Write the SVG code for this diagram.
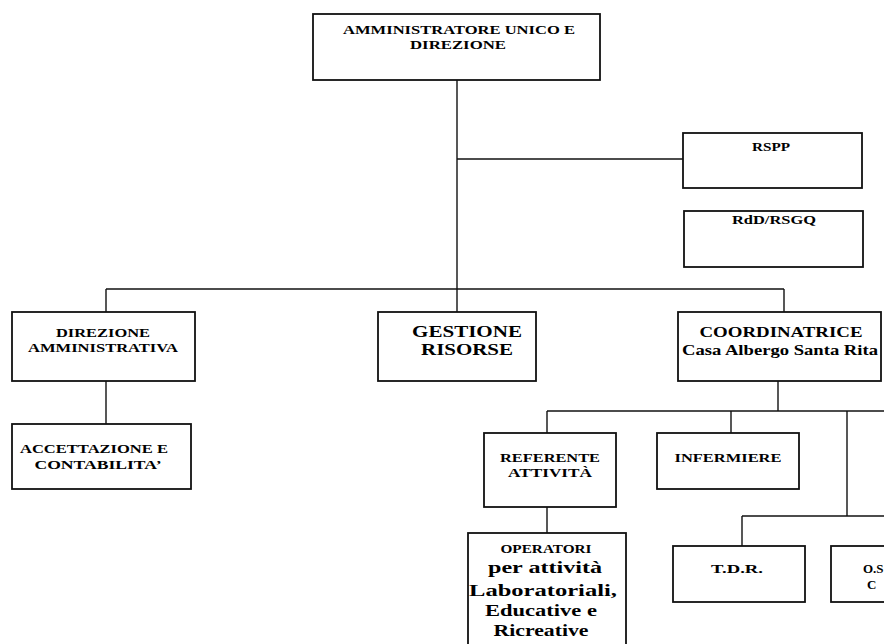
<svg xmlns="http://www.w3.org/2000/svg" width="884" height="644" viewBox="0 0 884 644">
<style>
.box{fill:#fff;stroke:#111;stroke-width:1.8}
.ln{fill:none;stroke:#111;stroke-width:1.4}
text{font-family:"Liberation Serif","Times New Roman",serif;font-weight:bold;fill:#000;text-anchor:middle}
.s12{font-size:12.5px}
.s13{font-size:13px}
.s14{font-size:14.5px}
.s17{font-size:16px}
.s18{font-size:17.5px}
</style>
<rect width="884" height="644" fill="#fff"/>
<g id="connectors">
<path class="ln" d="M457 80V312"/>
<path class="ln" d="M457 159H683"/>
<path class="ln" d="M106 289H784"/>
<path class="ln" d="M106 289V312"/>
<path class="ln" d="M784 289V312"/>
<path class="ln" d="M106 381V424"/>
<path class="ln" d="M778 381V411"/>
<path class="ln" d="M547 411H884"/>
<path class="ln" d="M547 411V433"/>
<path class="ln" d="M731 411V433"/>
<path class="ln" d="M847 411V516"/>
<path class="ln" d="M742 516H884"/>
<path class="ln" d="M742 516V546"/>
<path class="ln" d="M547 507V533"/>
</g>
<g id="amministratore">
<rect class="box" x="313" y="14" width="287" height="66"/>
<text class="s13" x="459" y="34" textLength="232" lengthAdjust="spacingAndGlyphs">AMMINISTRATORE UNICO E</text>
<text class="s13" x="458" y="49" textLength="96" lengthAdjust="spacingAndGlyphs">DIREZIONE</text>
</g>
<g id="rspp">
<rect class="box" x="683" y="133" width="179" height="55"/>
<text class="s12" x="771" y="151" textLength="38" lengthAdjust="spacingAndGlyphs">RSPP</text>
</g>
<g id="rdd">
<rect class="box" x="684" y="211" width="179" height="56"/>
<text class="s12" x="774" y="224" textLength="84" lengthAdjust="spacingAndGlyphs">RdD/RSGQ</text>
</g>
<g id="direzione-amministrativa">
<rect class="box" x="12" y="312" width="183" height="69"/>
<text class="s13" x="103" y="337" textLength="94" lengthAdjust="spacingAndGlyphs">DIREZIONE</text>
<text class="s13" x="103" y="352" textLength="150" lengthAdjust="spacingAndGlyphs">AMMINISTRATIVA</text>
</g>
<g id="gestione-risorse">
<rect class="box" x="378" y="312" width="158" height="69"/>
<text class="s17" x="467" y="337" textLength="110" lengthAdjust="spacingAndGlyphs">GESTIONE</text>
<text class="s17" x="467" y="355" textLength="92" lengthAdjust="spacingAndGlyphs">RISORSE</text>
</g>
<g id="coordinatrice">
<rect class="box" x="678" y="312" width="203" height="69"/>
<text class="s14" x="781" y="337" textLength="163" lengthAdjust="spacingAndGlyphs">COORDINATRICE</text>
<text class="s14" x="780" y="355" textLength="196" lengthAdjust="spacingAndGlyphs">Casa Albergo Santa Rita</text>
</g>
<g id="accettazione">
<rect class="box" x="12" y="424" width="179" height="65"/>
<text class="s13" x="94" y="453" textLength="148" lengthAdjust="spacingAndGlyphs">ACCETTAZIONE E</text>
<text class="s13" x="98" y="469" textLength="127" lengthAdjust="spacingAndGlyphs">CONTABILITA’</text>
</g>
<g id="referente">
<rect class="box" x="484" y="433" width="132" height="74"/>
<text class="s13" x="550" y="462" textLength="100" lengthAdjust="spacingAndGlyphs">REFERENTE</text>
<text class="s13" x="550" y="477" textLength="84" lengthAdjust="spacingAndGlyphs">ATTIVITÀ</text>
</g>
<g id="infermiere">
<rect class="box" x="657" y="433" width="142" height="56"/>
<text class="s13" x="728" y="462" textLength="107" lengthAdjust="spacingAndGlyphs">INFERMIERE</text>
</g>
<g id="operatori">
<rect class="box" x="468" y="533" width="158" height="120"/>
<text class="s13" x="546" y="553" textLength="91" lengthAdjust="spacingAndGlyphs">OPERATORI</text>
<text class="s18" x="545" y="573" textLength="114" lengthAdjust="spacingAndGlyphs">per attività</text>
<text class="s18" x="543" y="596" textLength="148" lengthAdjust="spacingAndGlyphs">Laboratoriali,</text>
<text class="s18" x="541" y="616" textLength="112" lengthAdjust="spacingAndGlyphs">Educative e</text>
<text class="s18" x="541" y="636" textLength="95" lengthAdjust="spacingAndGlyphs">Ricreative</text>
</g>
<g id="tdr">
<rect class="box" x="673" y="546" width="132" height="56"/>
<text class="s13" x="737" y="573" textLength="52" lengthAdjust="spacingAndGlyphs">T.D.R.</text>
</g>
<g id="oss">
<rect class="box" x="831" y="546" width="80" height="56"/>
<text class="s13" x="863" y="573" style="text-anchor:start">O.S</text>
<text class="s13" x="867" y="589" style="text-anchor:start">C</text>
</g>
</svg>
